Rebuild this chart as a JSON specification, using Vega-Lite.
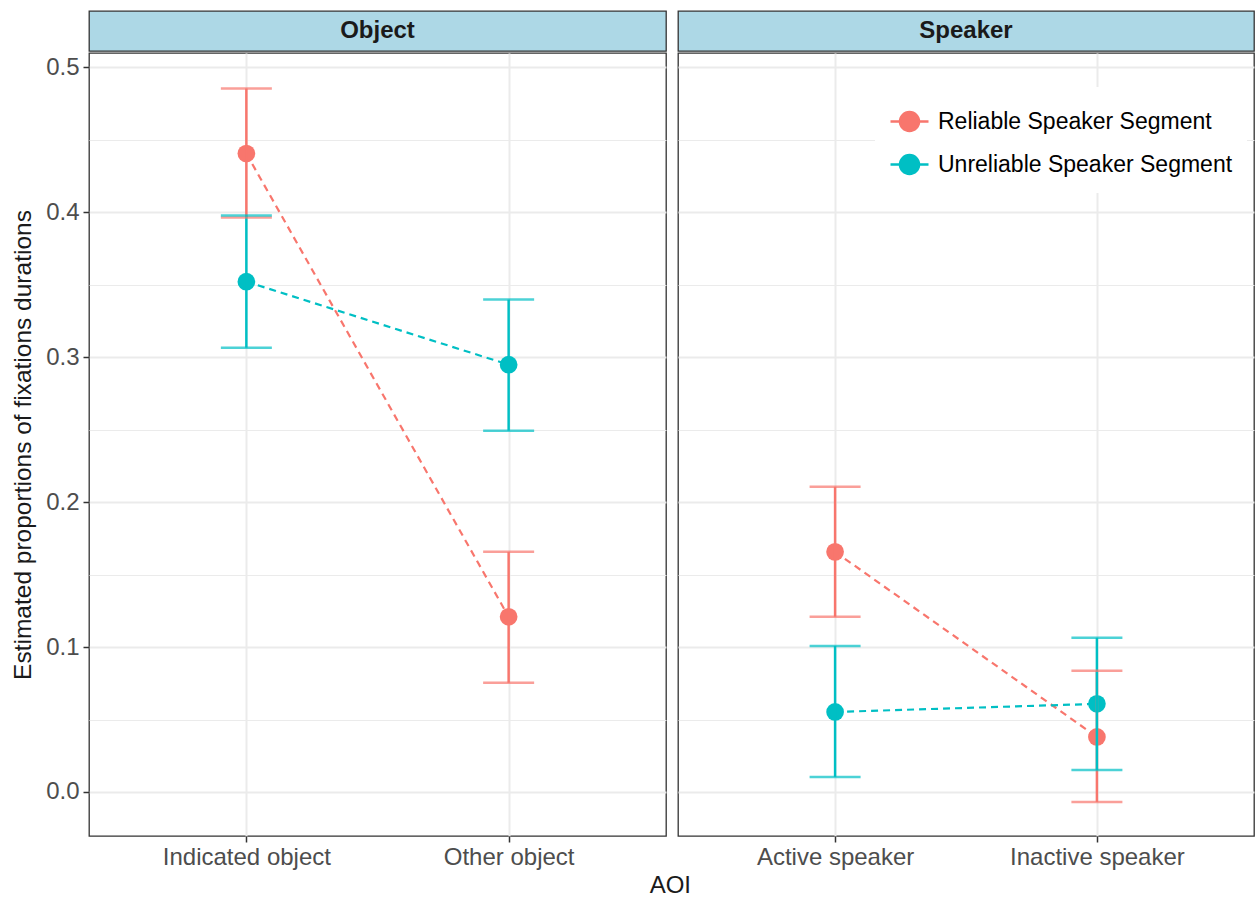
{
  "$schema": "https://vega.github.io/schema/vega-lite/v6.json",
  "background": "white",
  "padding": {"left": 9, "top": 10, "right": 2, "bottom": 0},
  "datasets": {
    "est": [
      {"panel": "Object", "aoi": "Indicated object", "segment": "Reliable Speaker Segment", "est": 0.4406, "lo": 0.3964, "hi": 0.4855},
      {"panel": "Object", "aoi": "Indicated object", "segment": "Unreliable Speaker Segment", "est": 0.3522, "lo": 0.3066, "hi": 0.3978},
      {"panel": "Object", "aoi": "Other object", "segment": "Reliable Speaker Segment", "est": 0.1209, "lo": 0.0753, "hi": 0.1657},
      {"panel": "Object", "aoi": "Other object", "segment": "Unreliable Speaker Segment", "est": 0.2949, "lo": 0.2493, "hi": 0.3398},
      {"panel": "Speaker", "aoi": "Active speaker", "segment": "Reliable Speaker Segment", "est": 0.1657, "lo": 0.1209, "hi": 0.2106},
      {"panel": "Speaker", "aoi": "Active speaker", "segment": "Unreliable Speaker Segment", "est": 0.0552, "lo": 0.0104, "hi": 0.1008},
      {"panel": "Speaker", "aoi": "Inactive speaker", "segment": "Reliable Speaker Segment", "est": 0.0380, "lo": -0.0069, "hi": 0.0836},
      {"panel": "Speaker", "aoi": "Inactive speaker", "segment": "Unreliable Speaker Segment", "est": 0.0608, "lo": 0.0152, "hi": 0.1064}
    ],
    "strips": [{"panel": "Object"}, {"panel": "Speaker"}]
  },
  "config": {
    "font": "Liberation Sans",
    "view": {"stroke": "#333333"},
    "axis": {
      "labelFont": "Liberation Sans",
      "titleFont": "Liberation Sans",
      "labelFontSize": 24,
      "labelColor": "#4D4D4D",
      "titleFontSize": 24.5,
      "titleFontWeight": "normal",
      "titleColor": "#1A1A1A",
      "tickColor": "#333333",
      "tickWidth": 1.5,
      "tickSize": 6,
      "gridColor": "#EBEBEB",
      "domain": false
    }
  },
  "title": {"text": "AOI", "orient": "bottom", "anchor": "middle", "fontSize": 24, "fontWeight": "normal", "color": "#1A1A1A", "font": "Liberation Sans", "offset": 4, "dx": 38},
  "spacing": 10,
  "hconcat": [
    {
      "spacing": 0,
      "vconcat": [
        {
          "width": 577, "height": 40,
          "view": {"fill": "#ADD8E6", "stroke": "#333333", "strokeWidth": 1.3},
          "data": {"name": "strips"},
          "transform": [{"filter": "datum.panel === 'Object'"}],
          "mark": {"type": "text", "fontSize": 24, "fontWeight": "bold", "color": "#1A1A1A", "baseline": "middle", "align": "center", "font": "Liberation Sans"},
          "encoding": {"text": {"field": "panel", "type": "nominal"}}
        },
        {
          "width": 577, "height": 783,
          "view": {"stroke": "#333333", "strokeWidth": 1.3},
          "data": {"name": "est"},
          "transform": [{"filter": "datum.panel === 'Object'"}],
          "encoding": {
            "x": {"field": "aoi", "type": "nominal", "sort": ["Indicated object", "Other object"], "scale": {"type": "point", "padding": 0.6},
                  "axis": {"title": null, "labelAngle": 0, "grid": true, "gridWidth": 2, "labelPadding": 3}}
          },
          "layer": [
            {
              "mark": {"type": "line", "strokeDash": [7, 5], "strokeWidth": 2.2},
              "encoding": {
                "y": {"field": "est", "type": "quantitative", "scale": {"domain": [-0.0304, 0.51], "nice": false, "zero": false},
                      "axis": {"title": "Estimated proportions of fixations durations", "titlePadding": 10, "labelPadding": 4,
                               "values": [0, 0.05, 0.1, 0.15, 0.2, 0.25, 0.3, 0.35, 0.4, 0.45, 0.5],
                               "labelExpr": "abs(datum.value*10 - round(datum.value*10)) < 0.001 ? format(datum.value, '.1f') : ''",
                               "gridWidth": {"condition": {"test": "abs(datum.value*10 - round(datum.value*10)) < 0.001", "value": 2}, "value": 1.1},
                               "tickOpacity": {"condition": {"test": "abs(datum.value*10 - round(datum.value*10)) < 0.001", "value": 1}, "value": 0}}},
                "color": {"field": "segment", "type": "nominal",
                          "scale": {"domain": ["Reliable Speaker Segment", "Unreliable Speaker Segment"], "range": ["#F8766D", "#00BFC4"]},
                          "legend": {"title": null, "orient": "none", "legendX": 786, "legendY": 76, "fillColor": "white", "padding": 14,
                                     "labelFontSize": 23, "labelColor": "#000000", "labelFont": "Liberation Sans", "labelOffset": 8, "labelLimit": 500,
                                     "symbolType": "M-1,0H-0.5M0.5,0H1M-0.5,0A0.5,0.5,0,1,1,0.5,0A0.5,0.5,0,1,1,-0.5,0Z",
                                     "symbolSize": 1444, "symbolStrokeWidth": 2.5, "rowPadding": 8,
                                     "encode": {"symbols": {"update": {"fill": {"scale": "color", "field": "value"}, "stroke": {"scale": "color", "field": "value"}, "strokeDash": {"value": []}, "opacity": {"value": 1}}}}}}
              }
            },
            {
              "mark": {"type": "point", "filled": true, "size": 314, "opacity": 1},
              "encoding": {
                "y": {"field": "est", "type": "quantitative", "scale": {"domain": [-0.0304, 0.51], "nice": false, "zero": false}},
                "color": {"field": "segment", "type": "nominal"}
              }
            },
            {
              "mark": {"type": "rule", "strokeWidth": 2.5},
              "encoding": {
                "y": {"field": "lo", "type": "quantitative", "scale": {"domain": [-0.0304, 0.51], "nice": false, "zero": false}},
                "y2": {"field": "hi"},
                "color": {"field": "segment", "type": "nominal"}
              }
            },
            {
              "mark": {"type": "tick", "size": 51, "thickness": 2.5},
              "encoding": {
                "y": {"field": "lo", "type": "quantitative", "scale": {"domain": [-0.0304, 0.51], "nice": false, "zero": false}},
                "color": {"field": "segment", "type": "nominal"}
              }
            },
            {
              "mark": {"type": "tick", "size": 51, "thickness": 2.5},
              "encoding": {
                "y": {"field": "hi", "type": "quantitative", "scale": {"domain": [-0.0304, 0.51], "nice": false, "zero": false}},
                "color": {"field": "segment", "type": "nominal"}
              }
            }
          ]
        }
      ]
    },
    {
      "spacing": 0,
      "vconcat": [
        {
          "width": 576, "height": 40,
          "view": {"fill": "#ADD8E6", "stroke": "#333333", "strokeWidth": 1.3},
          "data": {"name": "strips"},
          "transform": [{"filter": "datum.panel === 'Speaker'"}],
          "mark": {"type": "text", "fontSize": 24, "fontWeight": "bold", "color": "#1A1A1A", "baseline": "middle", "align": "center", "font": "Liberation Sans"},
          "encoding": {"text": {"field": "panel", "type": "nominal"}}
        },
        {
          "width": 576, "height": 783,
          "view": {"stroke": "#333333", "strokeWidth": 1.3},
          "data": {"name": "est"},
          "transform": [{"filter": "datum.panel === 'Speaker'"}],
          "encoding": {
            "x": {"field": "aoi", "type": "nominal", "sort": ["Active speaker", "Inactive speaker"], "scale": {"type": "point", "padding": 0.6},
                  "axis": {"title": null, "labelAngle": 0, "grid": true, "gridWidth": 2, "labelPadding": 3}}
          },
          "layer": [
            {
              "mark": {"type": "line", "strokeDash": [7, 5], "strokeWidth": 2.2},
              "encoding": {
                "y": {"field": "est", "type": "quantitative", "scale": {"domain": [-0.0304, 0.51], "nice": false, "zero": false},
                      "axis": {"title": null, "labels": false, "ticks": false,
                               "values": [0, 0.05, 0.1, 0.15, 0.2, 0.25, 0.3, 0.35, 0.4, 0.45, 0.5],
                               "gridWidth": {"condition": {"test": "abs(datum.value*10 - round(datum.value*10)) < 0.001", "value": 2}, "value": 1.1}}},
                "color": {"field": "segment", "type": "nominal"}
              }
            },
            {
              "mark": {"type": "point", "filled": true, "size": 314, "opacity": 1},
              "encoding": {
                "y": {"field": "est", "type": "quantitative", "scale": {"domain": [-0.0304, 0.51], "nice": false, "zero": false}},
                "color": {"field": "segment", "type": "nominal"}
              }
            },
            {
              "mark": {"type": "rule", "strokeWidth": 2.5},
              "encoding": {
                "y": {"field": "lo", "type": "quantitative", "scale": {"domain": [-0.0304, 0.51], "nice": false, "zero": false}},
                "y2": {"field": "hi"},
                "color": {"field": "segment", "type": "nominal"}
              }
            },
            {
              "mark": {"type": "tick", "size": 51, "thickness": 2.5},
              "encoding": {
                "y": {"field": "lo", "type": "quantitative", "scale": {"domain": [-0.0304, 0.51], "nice": false, "zero": false}},
                "color": {"field": "segment", "type": "nominal"}
              }
            },
            {
              "mark": {"type": "tick", "size": 51, "thickness": 2.5},
              "encoding": {
                "y": {"field": "hi", "type": "quantitative", "scale": {"domain": [-0.0304, 0.51], "nice": false, "zero": false}},
                "color": {"field": "segment", "type": "nominal"}
              }
            }
          ]
        }
      ]
    }
  ]
}
